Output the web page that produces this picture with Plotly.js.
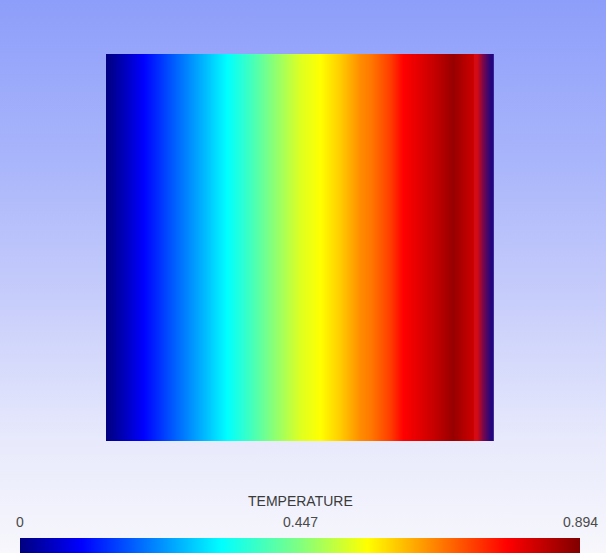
<!DOCTYPE html>
<html>
<head>
<meta charset="utf-8">
<script src="https://cdn.plot.ly/plotly-3.0.1.min.js"></script>
<style>
  html, body { margin: 0; padding: 0; }
  #chart {
    width: 606px; height: 553px;
    background: linear-gradient(to bottom, rgb(141,158,250) 0%, rgb(170,182,251) 30%, rgb(200,206,251) 55%, rgb(232,234,252) 80%, rgb(247,247,252) 100%);
  }
</style>
</head>
<body>
<div id="chart"></div>
<script>
// Horizontal position across the domain (0 = left wall, 1 = right wall)
const xPositions = [0.000, 0.036, 0.095, 0.165, 0.242, 0.312, 0.371, 0.423, 0.500, 0.552, 0.603, 0.655, 0.681, 0.732, 0.765, 0.809, 0.853, 0.894, 0.930, 0.956];
// Temperature
const temperature = [0.000, 0.036, 0.098, 0.170, 0.250, 0.322, 0.384, 0.447, 0.527, 0.554, 0.599, 0.655, 0.672, 0.725, 0.778, 0.805, 0.837, 0.873, 0.837, 0.820];
// Thin boundary layer at the right wall (cold wall)
const wallPositions = [0.956, 0.972, 0.990, 1.000];
const wallTemperature = [0.820, 0.400, 0.050, 0.000];
const yPositions = [0, 1];

const tMin = 0, tMax = 0.894;
const tickValues = [0, 0.447, 0.894];
const tickLabels = ['0', '0.447', '0.894'];
const barTitle = 'TEMPERATURE';

const jet = [
  [0.00, 'rgb(0,0,128)'],
  [0.11, 'rgb(0,0,255)'],
  [0.36, 'rgb(0,255,255)'],
  [0.50, 'rgb(128,255,128)'],
  [0.62, 'rgb(255,255,0)'],
  [0.87, 'rgb(255,0,0)'],
  [1.00, 'rgb(128,0,0)']
];

const W = 606, H = 553;
const cbLeft = 20, cbLen = 560;

const traces = [
  {
    type: 'heatmap',
    x: xPositions,
    y: yPositions,
    z: yPositions.map(() => temperature),
    zmin: tMin, zmax: tMax,
    zsmooth: 'best',
    colorscale: jet,
    hoverinfo: 'skip',
    colorbar: {
      orientation: 'h',
      x: (cbLeft + cbLen / 2) / W, xanchor: 'center',
      y: 0, yanchor: 'bottom',
      xpad: 0, ypad: 0,
      len: cbLen, lenmode: 'pixels',
      thickness: 15,
      outlinewidth: 0,
      ticks: '',
      showticklabels: false
    }
  },
  {
    type: 'heatmap',
    x: wallPositions,
    y: yPositions,
    z: yPositions.map(() => wallTemperature),
    zmin: tMin, zmax: wallTemperature[0],
    zsmooth: 'best',
    colorscale: [[0, 'rgb(30,5,130)'], [1, 'rgb(212,10,20)']],
    showscale: false,
    hoverinfo: 'skip'
  }
];

const annotations = tickValues.map((v, i) => ({
  xref: 'paper', yref: 'paper',
  x: (cbLeft + (v - tMin) / (tMax - tMin) * cbLen) / W,
  y: (H - 522) / H,
  xanchor: 'center', yanchor: 'middle',
  text: tickLabels[i], showarrow: false,
  font: { family: 'Liberation Sans, Arial, sans-serif', size: 14, color: '#4a4a4a' }
}));
annotations.push({
  xref: 'paper', yref: 'paper',
  x: (cbLeft + cbLen / 2) / W, y: (H - 501) / H,
  xanchor: 'center', yanchor: 'middle',
  text: barTitle, showarrow: false,
  font: { family: 'Liberation Sans, Arial, sans-serif', size: 14, color: '#3a3a3a' }
});

const layout = {
  width: W, height: H,
  margin: { l: 0, r: 0, t: 0, b: 0, pad: 0 },
  paper_bgcolor: 'rgba(0,0,0,0)',
  plot_bgcolor: 'rgba(0,0,0,0)',
  showlegend: false,
  xaxis: { domain: [106 / W, 494 / W], range: [0, 1], visible: false, fixedrange: true },
  yaxis: { domain: [(H - 441) / H, (H - 54) / H], range: [0, 1], visible: false, fixedrange: true },
  annotations: annotations
};

Plotly.newPlot('chart', traces, layout, { displayModeBar: false, staticPlot: true });
</script>
</body>
</html>
